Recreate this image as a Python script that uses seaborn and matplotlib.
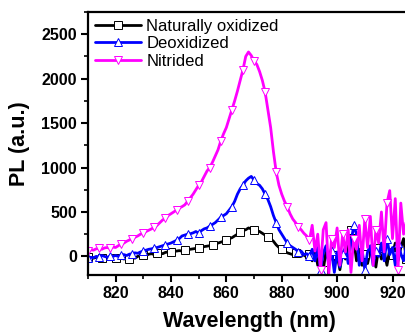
import numpy as np
import pandas as pd
import matplotlib
matplotlib.use("Agg")
import matplotlib.pyplot as plt
import seaborn as sns
from matplotlib.ticker import MultipleLocator

wavelength = list(range(810, 928))

oxidized = [
    -10, 0, -20, -10, -15, -20, -10, -25, -20, -15,
    -20, -25, -15, -30, -20, -25, -10, -20, 0, 10,
    20, 10, 25, 30, 20, 35, 40, 30, 45, 50,
    50, 55, 60, 65, 60, 70, 75, 80, 85, 90,
    95, 100, 110, 115, 120, 130, 140, 150, 160, 170,
    180, 200, 210, 230, 250, 270, 290, 300, 320, 310,
    300, 290, 280, 260, 240, 220, 200, 170, 130, 100,
    80, 60, 40, 30, 20, 40, 10, 0, 20, -10,
    30, -50, 80, -100, 20, -150, 60, -50, 100, -80,
    20, -150, 50, -30, 120, 300, 200, -50, 80, -100,
    30, -80, 60, 10, -120, 100, -30, 50, -100, 80,
    20, 150, -50, 100, 200, -30, 250, 100,
]

deoxidized = [
    -20, -10, -15, 0, -5, 10, 0, -10, 5, 0,
    10, 0, 15, 20, 10, 25, 30, 40, 35, 50,
    60, 70, 80, 85, 95, 100, 110, 120, 130, 140,
    150, 165, 180, 200, 230, 240, 250, 255, 265, 280,
    260, 290, 310, 320, 340, 360, 380, 410, 440, 460,
    480, 520, 560, 620, 700, 760, 800, 850, 880, 900,
    860, 820, 800, 760, 700, 640, 560, 460, 380, 300,
    250, 200, 150, 120, 100, 80, 50, 60, 20, 30,
    0, 80, -50, 100, -150, 40, 120, -100, 60, -180,
    50, -120, 30, 100, -80, 150, 350, 250, -100, 80,
    -150, 50, 120, -100, 60, 0, 150, -50, 200, 20,
    100, -100, 150, 30, -50, 120, 0, 80,
]

nitrided = [
    60, 75, 70, 85, 90, 80, 95, 100, 90, 105,
    100, 120, 140, 150, 170, 185, 200, 215, 230, 250,
    260, 280, 295, 310, 330, 350, 380, 410, 430, 460,
    480, 500, 520, 545, 560, 580, 620, 660, 700, 750,
    800, 840, 900, 960, 1000, 1060, 1130, 1200, 1300, 1380,
    1450, 1550, 1650, 1750, 1860, 1980, 2100, 2250, 2300, 2260,
    2200, 2160, 2080, 1980, 1850, 1650, 1450, 1180, 950, 800,
    700, 620, 560, 480, 420, 380, 330, 300, 260, 230,
    180, 350, 60, 250, -150, 300, 380, -200, 200, 100,
    320, -100, 250, 50, 300, -180, 200, 80, 350, -50,
    420, 100, 450, -100, 300, 150, 500, 50, 600, 740,
    200, 650, -150, 600, 250, 400, -50, 350,
]

labels = ["Naturally oxidized", "Deoxidized", "Nitrided"]
colors = ["#000000", "#0000FF", "#FF00FF"]
markers = ["s", "^", "v"]

sns.set_style("ticks")
plt.rcParams["font.family"] = ["Liberation Sans", "DejaVu Sans"]
plt.rcParams["text.color"] = "black"
plt.rcParams["axes.labelcolor"] = "black"
plt.rcParams["xtick.color"] = "black"
plt.rcParams["ytick.color"] = "black"

fig = plt.figure(figsize=(4.05, 3.33), dpi=100)
ax = fig.add_axes([0.217, 0.174, 0.80, 0.79])

series = [oxidized, deoxidized, nitrided]
every = [5, 4, 4]
for ys, lab, c, m, me in zip(series, labels, colors, markers, every):
    df = pd.DataFrame({"wavelength": wavelength, "pl": ys})
    sns.lineplot(data=df, x="wavelength", y="pl", ax=ax, color=c, label=lab,
                 linewidth=2.0, marker=m, markevery=me, markersize=5.5,
                 markerfacecolor="white", markeredgecolor=c, markeredgewidth=0.7,
                 errorbar=None, estimator=None, sort=False)

ax.set_xlim(810, 927)
ax.set_ylim(-210, 2750)
ax.xaxis.set_major_locator(MultipleLocator(20))
ax.xaxis.set_minor_locator(MultipleLocator(10))
ax.yaxis.set_major_locator(MultipleLocator(500))
ax.yaxis.set_minor_locator(MultipleLocator(250))
ax.tick_params(which="major", direction="out", length=5, width=1.5, labelsize=11.5, pad=3,
               colors="black")
ax.tick_params(which="minor", direction="out", length=3, width=1.2, colors="black")
for t in ax.get_xticklabels() + ax.get_yticklabels():
    t.set_fontweight("bold")

for s in ["left", "bottom", "top"]:
    ax.spines[s].set_linewidth(1.6)
    ax.spines[s].set_color("black")
ax.spines["right"].set_visible(False)

ax.set_xlabel("Wavelength (nm)", fontsize=15.5, fontweight="bold", labelpad=7, color="black")
ax.set_ylabel("PL (a.u.)", fontsize=15.5, fontweight="bold", labelpad=8, color="black")

leg = ax.legend(loc="upper left", frameon=False, fontsize=12, handlelength=2.8,
                handletextpad=0.3, labelspacing=0.15, borderaxespad=0.2,
                borderpad=0.2)
for h in leg.get_lines():
    h.set_markersize(5.5)
for t in leg.get_texts():
    t.set_color("black")

fig.savefig("out.png", dpi=100)
